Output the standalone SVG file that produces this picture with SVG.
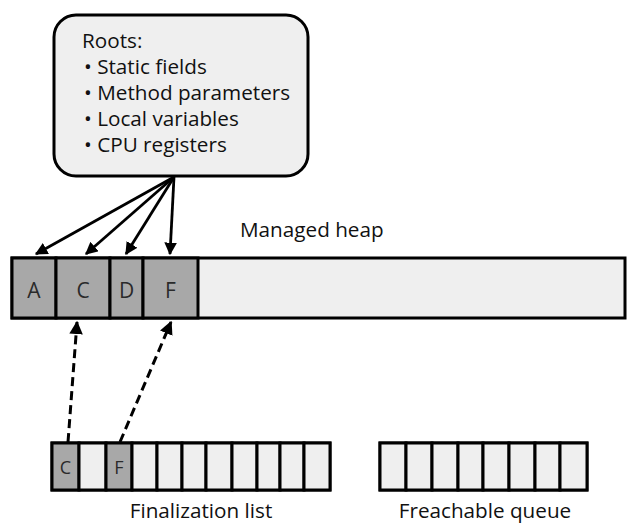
<svg xmlns="http://www.w3.org/2000/svg" width="635" height="528" viewBox="0 0 635 528">
<defs>
<style>
text{font-family:"Open Sans","Noto Sans","DejaVu Sans",sans-serif;font-size:20.7px;fill:#111}
.lt{fill:#efefef;stroke:#000;stroke-width:3}
.dk{fill:#a8a8a8;stroke:#000;stroke-width:3}
.cell{font-size:21px;fill:#2a2a2a;text-anchor:middle}
.sm{font-size:18px;fill:#2a2a2a;text-anchor:middle}
.sol{stroke:#000;stroke-width:2.8;fill:none;marker-end:url(#ah)}
.dash{stroke:#000;stroke-width:3;fill:none;stroke-dasharray:9 5;marker-end:url(#ah)}
</style>
<marker id="ah" viewBox="0 0 10 10" refX="9" refY="5" markerWidth="4.5" markerHeight="4.5" orient="auto" markerUnits="strokeWidth">
<path d="M0,0 L10,5 L0,10 z" fill="#000"/>
</marker>
</defs>
<rect width="635" height="528" fill="#fff"/>
<g id="roots">
<rect x="54" y="15" width="254" height="161" rx="22" class="lt"/>
<text x="82" y="48">Roots:</text>
<text x="84" y="74">• Static fields</text>
<text x="84" y="100">• Method parameters</text>
<text x="84" y="126">• Local variables</text>
<text x="84" y="152">• CPU registers</text>
</g>
<g id="heap">
<rect x="12" y="258" width="613" height="60" class="lt"/>
<rect x="12" y="258" width="44" height="60" class="dk"/>
<rect x="56" y="258" width="54" height="60" class="dk"/>
<rect x="110" y="258" width="33" height="60" class="dk"/>
<rect x="143" y="258" width="55" height="60" class="dk"/>
<text class="cell" x="34" y="298">A</text>
<text class="cell" x="83" y="298">C</text>
<text class="cell" x="126.5" y="298">D</text>
<text class="cell" x="170.5" y="298">F</text>
<text x="240" y="237">Managed heap</text>
</g>
<g id="finalization-list">
<rect x="52" y="443" width="278" height="47" class="lt"/>
<rect x="52" y="443" width="27" height="47" class="dk"/>
<rect x="79" y="443" width="27" height="47" class="lt"/>
<rect x="106" y="443" width="26" height="47" class="dk"/>
<rect x="132" y="443" width="25" height="47" class="lt"/>
<rect x="157" y="443" width="25" height="47" class="lt"/>
<rect x="182" y="443" width="24" height="47" class="lt"/>
<rect x="206" y="443" width="26" height="47" class="lt"/>
<rect x="232" y="443" width="25" height="47" class="lt"/>
<rect x="257" y="443" width="23" height="47" class="lt"/>
<rect x="280" y="443" width="24" height="47" class="lt"/>
<rect x="304" y="443" width="26" height="47" class="lt"/>
<text class="sm" x="65.5" y="474">C</text>
<text class="sm" x="119" y="474">F</text>
<text x="201" y="518" text-anchor="middle">Finalization list</text>
</g>
<g id="freachable-queue">
<rect x="380" y="443" width="207" height="47" class="lt"/>
<rect x="380" y="443" width="26" height="47" class="lt"/>
<rect x="406" y="443" width="26" height="47" class="lt"/>
<rect x="432" y="443" width="26" height="47" class="lt"/>
<rect x="458" y="443" width="25" height="47" class="lt"/>
<rect x="483" y="443" width="26" height="47" class="lt"/>
<rect x="509" y="443" width="26" height="47" class="lt"/>
<rect x="535" y="443" width="25" height="47" class="lt"/>
<rect x="560" y="443" width="27" height="47" class="lt"/>
<text x="485" y="518" text-anchor="middle">Freachable queue</text>
</g>
<g id="connectors">
<line x1="174" y1="177" x2="36" y2="254" class="sol"/>
<line x1="174" y1="177" x2="86" y2="254" class="sol"/>
<line x1="174" y1="177" x2="126" y2="254" class="sol"/>
<line x1="174" y1="177" x2="170" y2="254" class="sol"/>
<line x1="68" y1="442" x2="77" y2="322" class="dash"/>
<line x1="120" y1="442" x2="171" y2="322" class="dash"/>
</g>
</svg>
